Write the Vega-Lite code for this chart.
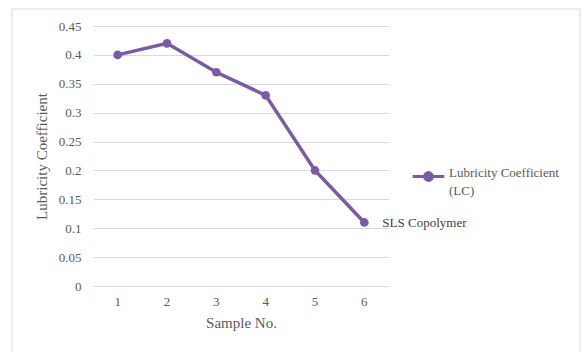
{
  "$schema": "https://vega.github.io/schema/vega-lite/v6.json",
  "width": 296,
  "height": 260,
  "autosize": {"type": "none"},
  "padding": {"left": 93, "top": 26, "right": 193, "bottom": 66},
  "background": "white",
  "config": {
    "font": "Liberation Serif",
    "view": {"stroke": null},
    "text": {"font": "Liberation Serif"}
  },
  "data": {
    "values": [
      {"sample": "1", "lc": 0.40, "series": "Lubricity Coefficient (LC)", "tag": ""},
      {"sample": "2", "lc": 0.42, "series": "Lubricity Coefficient (LC)", "tag": ""},
      {"sample": "3", "lc": 0.37, "series": "Lubricity Coefficient (LC)", "tag": ""},
      {"sample": "4", "lc": 0.33, "series": "Lubricity Coefficient (LC)", "tag": ""},
      {"sample": "5", "lc": 0.20, "series": "Lubricity Coefficient (LC)", "tag": ""},
      {"sample": "6", "lc": 0.11, "series": "Lubricity Coefficient (LC)", "tag": "SLS Copolymer"}
    ]
  },
  "encoding": {
    "x": {
      "field": "sample",
      "type": "ordinal",
      "scale": {"type": "band", "paddingInner": 0, "paddingOuter": 0},
      "axis": {"title": "Sample No.", "labelAngle": 0, "ticks": false, "domain": false, "labelFont": "Liberation Serif", "titleFont": "Liberation Serif", "labelColor": "#595959", "titleColor": "#595959", "titleFontWeight": "normal", "labelFontSize": 13, "labelPadding": 9, "titleFontSize": 15, "titlePadding": 7}
    },
    "y": {
      "field": "lc",
      "type": "quantitative",
      "scale": {"domain": [0, 0.45]},
      "axis": {"title": "Lubricity Coefficient", "values": [0, 0.05, 0.1, 0.15, 0.2, 0.25, 0.3, 0.35, 0.4, 0.45], "format": ".2~f", "ticks": false, "domain": false, "gridColor": "#d9d9d9", "gridWidth": 1, "labelFont": "Liberation Serif", "titleFont": "Liberation Serif", "labelColor": "#595959", "titleColor": "#595959", "titleFontWeight": "normal", "labelFontSize": 13, "labelPadding": 12, "titleFontSize": 15, "titlePadding": 9}
    }
  },
  "layer": [
    {
      "mark": {"type": "rect", "fill": null, "stroke": "#d9d9d9", "strokeWidth": 1},
      "encoding": {
        "x": {"value": -81},
        "x2": {"value": 487},
        "y": {"value": -17},
        "y2": {"value": 340}
      },
      "transform": [{"filter": "datum.sample == '1'"}]
    },
    {
      "mark": {"type": "line", "strokeWidth": 3.5, "point": {"size": 75, "filled": true}},
      "encoding": {
        "color": {
          "field": "series",
          "type": "nominal",
          "scale": {"range": ["#7b5aa6"]},
          "legend": {
            "title": null,
            "orient": "none",
            "legendX": 318,
            "legendY": 133,
            "symbolType": "M-1,0L1,0M-0.25,0A0.25,0.25 0 1,0 0.25,0A0.25,0.25 0 1,0 -0.25,0Z",
            "symbolSize": 1000,
            "symbolStrokeWidth": 3,
            "symbolFillColor": "#7b5aa6",
            "symbolStrokeColor": "#7b5aa6",
            "labelFont": "Liberation Serif",
            "labelColor": "#595959",
            "labelFontSize": 13,
            "labelBaseline": "alphabetic",
            "labelOffset": 3,
            "labelExpr": "['Lubricity Coefficient', '(LC)']",
            "labelLimit": 200,
            "encode": {"labels": {"update": {"lineHeight": {"value": 18}}}}
          }
        }
      }
    },
    {
      "transform": [{"filter": "datum.tag != ''"}],
      "mark": {"type": "text", "align": "left", "baseline": "middle", "dx": 18, "dy": 1, "fontSize": 13, "color": "#404040", "font": "Liberation Serif"},
      "encoding": {"text": {"field": "tag"}}
    }
  ]
}
